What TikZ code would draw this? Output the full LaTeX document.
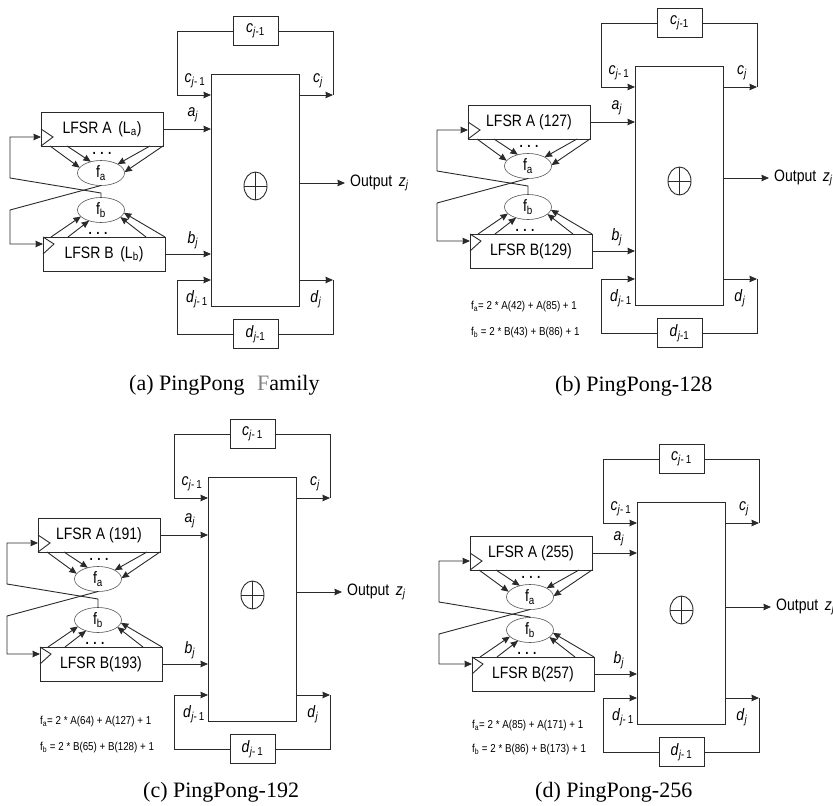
\documentclass[tikz,border=0pt]{standalone}
\usepackage{fontspec}
\setmainfont[FakeStretch=0.85]{Liberation Sans}
\newfontfamily\capfont{Liberation Serif}
\usepackage{tikz}
\usetikzlibrary{arrows.meta,positioning,shapes.geometric}
\definecolor{PPLine}{HTML}{2A2A2A}
\definecolor{PPRing}{HTML}{555555}

\newcommand{\pplab}[2]{\textit{#1}\textsubscript{\textit{j}#2}}
\newcommand{\ppboxsub}{-1}

% #1 LFSR A x, #2 LFSR A y, #3 LFSR B y, #4 core x, #5 core top, #6 core bottom,
% #7 output y, #8 text A, #9 text B
\newcommand{\pppanel}[9]{
  \node[lfsr, anchor=north west] (lfsra) at (#1,#2) {#8};
  \node[lfsr, anchor=north west] (lfsrb) at (#1+2,#3) {#9};
  \node[fun] (fa) at (#1+60,#2+61) {f\textsubscript{a}};
  \node[fun] (fb) at (#1+60,#3-27) {f\textsubscript{b}};
  \node[dotsrow] (dotsa) at (#1+61,#2+41) {. . .};
  \node[dotsrow] (dotsb) at (#1+57,#3-4) {. . .};
  \node[core, minimum height={(#6-#5)*1pt}, anchor=north west] (core) at (#4,#5) {};
  \node[xorring] (xor) at (#4+44.5,#7+3) {};
  \draw[wire] (xor.north) -- (xor.south);
  \draw[wire] (xor.west) -- (xor.east);
  \node[reg] (cbox) at (#4+44.5,#5-43) {\pplab{c}{\ppboxsub}};
  \node[reg] (dbox) at (#4+44.5,#6+28) {\pplab{d}{\ppboxsub}};
  \coordinate (cin) at (#4-34,#5+21);
  \coordinate (cout) at (#4+122,#5+21);
  \coordinate (din) at (#4-34,#6-26);
  \coordinate (dout) at (#4+122,#6-26);
  \coordinate (tipa) at (#1+12,#2+25);
  \coordinate (tipb) at (#1+13,#3+7);
  \coordinate (backa) at (#1-31,#2+25);
  \coordinate (kinka) at (#1-31,#2+66);
  \coordinate (kinkb) at (#1-31,#2+98);
  \coordinate (joga) at (#1+60,#2+81);
  \coordinate (outtip) at (#4+134,#7);
  \node[lab, anchor=west] (outlab) at (#4+139,#7) {Output \,\textit{z}\textsubscript{\textit{j}}};
  \node[lab] (cinlab) at (#4-16,#5+7) {\pplab{c}{-\,1}};
  \node[lab] (coutlab) at (#4+107,#5+7) {\pplab{c}{}};
  \node[lab] (ainlab) at (#4-18,#2+3) {\pplab{a}{}};
  \node[lab] (binlab) at (#4-18,#3+3) {\pplab{b}{}};
  \node[lab] (dinlab) at (#4-14,#6-7) {\pplab{d}{-\,1}};
  \node[lab] (doutlab) at (#4+105,#6-7) {\pplab{d}{}};
  % triangles
  \draw[wire] ([yshift=17pt]lfsra.south west) -- (tipa) -- (lfsra.south west);
  \draw[wire] (lfsrb.north west) -- (tipb) -- ([yshift=-17pt]lfsrb.north west);
  \draw[arr] (lfsra.east) -- (lfsra.east -| core.west);
  \draw[arr] (lfsrb.east) -- (lfsrb.east -| core.west);
  \draw[arr] (core.east |- outtip) -- (outtip);
  \draw[arr] (cbox.west) -| (cin) -- (cin -| core.west);
  \draw[arr] (core.east |- cout) -- (cout);
  \draw[wire] (cout) |- (cbox.east);
  \draw[arr] (dbox.west) -| (din) -- (din -| core.west);
  \draw[arr] (core.east |- dout) -- (dout);
  \draw[wire] (dout) |- (dbox.east);
  \draw[arr] ([xshift=9pt]lfsra.south west) -- (fa.166);
  \draw[arr] ([xshift=26pt]lfsra.south west) -- (fa.132);
  \draw[arr] ([xshift=109pt]lfsra.south west) -- (fa.28);
  \draw[arr] (lfsra.south east) -- (fa.2);
  \draw[arr] ([xshift=8pt]lfsrb.north west) -- (fb.198);
  \draw[arr] ([xshift=25pt]lfsrb.north west) -- (fb.222);
  \draw[arr] ([xshift=103pt]lfsrb.north west) -- (fb.340);
  \draw[arr] (lfsrb.north east) -- (fb.353);
  % feedback
  \draw[arr] (fa.south) -- (kinkb) |- (tipb -| lfsrb.west);
  \draw[arr] (fb.north) -- (joga) -- (kinka) -- (backa) -- (tipa -| lfsra.west);
}

\begin{document}
\begin{tikzpicture}[x=1pt, y=-1pt,
  lfsr/.style={draw=PPLine, line width=0.9pt, minimum width=122pt, minimum height=34pt,
               inner sep=0pt, outer sep=0pt, font=\fontsize{16.5}{18}\selectfont},
  fun/.style={draw=PPRing, line width=0.6pt, ellipse, minimum width=47pt, minimum height=25pt,
              inner sep=0pt, outer sep=0pt, fill=white, font=\fontsize{16.5}{18}\selectfont},
  core/.style={draw=PPLine, line width=0.9pt, minimum width=88pt, inner sep=0pt, outer sep=0pt},
  reg/.style={draw=PPLine, line width=0.9pt, minimum width=45pt, minimum height=29pt,
              inner sep=0pt, outer sep=0pt, font=\fontsize{16.5}{18}\selectfont},
  xorring/.style={draw=PPLine, line width=0.9pt, ellipse, minimum width=23pt, minimum height=28pt,
                  inner sep=0pt, outer sep=0pt},
  dotsrow/.style={inner sep=0pt, font=\bfseries\fontsize{14}{14}\selectfont},
  lab/.style={inner sep=0pt, font=\fontsize{16.5}{18}\selectfont},
  formula/.style={inner sep=0pt, anchor=west, font=\fontsize{11.5}{13}\selectfont},
  captext/.style={inner sep=0pt, anchor=west, font=\capfont\fontsize{22}{24}\selectfont},
  wire/.style={draw=PPLine, line width=0.9pt},
  arr/.style={wire, -{Stealth[length=7.5pt,width=6.5pt,inset=0.5pt]}}
]
\useasboundingbox (0,0) rectangle (833,806);

% (a)
\begin{scope}[name prefix=a-]
  \pppanel{41}{112}{237}{211}{74}{306}{183}{LFSR A\, (L\textsubscript{a})}{LFSR B\, (L\textsubscript{b})}
  \node[captext] (cap) at (129,385) {(a) PingPong\hspace{7pt} \textcolor{gray}{F}amily};
\end{scope}

% (b)
\begin{scope}[name prefix=b-]
  \pppanel{468}{105}{234}{635}{66}{305}{178}{LFSR A (127)}{LFSR B(129)}
  \node[formula] (fma) at (471,307) {f\textsubscript{a}= 2 * A(42) + A(85) + 1};
  \node[formula] (fmb) at (471,333) {f\textsubscript{b} = 2 * B(43) + B(86) + 1};
  \node[captext] (cap) at (555,386) {(b) PingPong-128};
\end{scope}

% (c)
\begin{scope}[name prefix=c-]
  \renewcommand{\ppboxsub}{-\,1}
  \pppanel{38}{518}{647}{208}{477}{721}{592}{LFSR A (191)}{LFSR B(193)}
  \node[formula] (fma) at (40,722) {f\textsubscript{a}= 2 * A(64) + A(127) + 1};
  \node[formula] (fmb) at (40,748) {f\textsubscript{b} = 2 * B(65) + B(128) + 1};
  \node[captext] (cap) at (143,792) {(c) PingPong-192};
\end{scope}

% (d)
\begin{scope}[name prefix=d-]
  \renewcommand{\ppboxsub}{-\,1}
  \pppanel{470}{536}{657}{637}{502}{724}{607}{LFSR A (255)}{LFSR B(257)}
  \node[formula] (fma) at (472,726) {f\textsubscript{a}= 2 * A(85) + A(171) + 1};
  \node[formula] (fmb) at (472,750) {f\textsubscript{b} = 2 * B(86) + B(173) + 1};
  \node[captext] (cap) at (535,792) {(d) PingPong-256};
\end{scope}

\end{tikzpicture}
\end{document}
